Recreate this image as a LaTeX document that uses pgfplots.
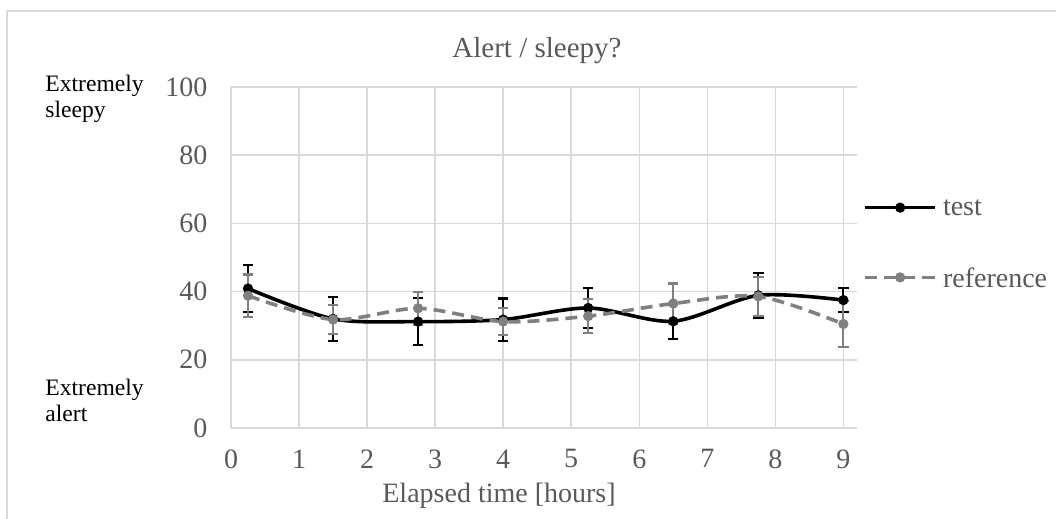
\documentclass[border=0pt]{standalone}
\usepackage{fontspec}
\setmainfont{Liberation Serif}
\usepackage{pgfplots}
\pgfplotsset{compat=1.18}
\definecolor{gridgray}{HTML}{D9D9D9}
\definecolor{labelgray}{HTML}{595959}
\definecolor{refgray}{HTML}{808080}

\begin{document}
\begin{tikzpicture}
\useasboundingbox (0,0) rectangle (528pt,259.5pt);
\draw[gridgray, line width=0.75pt] (3.5pt,0pt) -- (3.5pt,254pt) -- (528pt,254pt);

\begin{axis}[
    at={(115.5pt,45.5pt)}, anchor=south west,
    scale only axis, width=313pt, height=170.5pt,
    xmin=0, xmax=9.2, ymin=0, ymax=100,
    xtick={0,...,9}, ytick={0,20,...,100},
    axis line style={draw=none}, major tick length=0pt,
    grid=major, grid style={gridgray, line width=0.75pt},
    tick label style={font=\fontsize{14}{16}\selectfont, text=labelgray},
    /pgf/number format/assume math mode=true,
    xticklabel style={yshift=-7.3pt},
    yticklabel style={xshift=-8.3pt},
    legend cell align=left,
    legend style={draw=none, fill=none, at={(1.0096,0.541)}, anchor=west,
        inner sep=0pt, row sep=26pt, column sep=3pt,
        nodes={inner sep=0pt, text depth=0pt},
        font=\fontsize{14}{16}\selectfont, text=labelgray},
    legend image code/.code={\draw[mark repeat=2,mark phase=2,#1] plot coordinates {(0pt,0pt) (17.5pt,0pt) (35pt,0pt)};},
    clip=false,
]

% test
\addplot[black, line width=1.8pt, smooth, mark=*, mark size=2.3pt,
    mark options={solid, line width=0.5pt},
    error bars/.cd, y dir=both, y explicit,
    error bar style={black, line width=1.1pt, solid},
    error mark options={black, line width=1.1pt, mark size=2.6pt, rotate=90, solid}]
coordinates {
    (0.25,40.9) +- (0,7.0)
    (1.5,32.0)  +- (0,6.4)
    (2.75,31.2) +- (0,6.9)
    (4,31.8)    +- (0,6.2)
    (5.25,35.2) +- (0,5.9)
    (6.5,31.3)  +- (0,5.2)
    (7.75,38.9) +- (0,6.6)
    (9,37.5)    +- (0,3.5)
};

% reference
\addplot[refgray, line width=1.8pt, smooth, dash pattern=on 6pt off 3.5pt,
    mark=*, mark size=2.3pt, mark options={solid, line width=0.5pt},
    error bars/.cd, y dir=both, y explicit,
    error bar style={refgray, line width=1.1pt, solid},
    error mark options={refgray, line width=1.1pt, mark size=2.6pt, rotate=90, solid}]
coordinates {
    (0.25,38.8) +- (0,6.2)
    (1.5,31.8)  +- (0,4.3)
    (2.75,35.1) +- (0,4.8)
    (4,31.2)    +- (0,4.0)
    (5.25,32.8) +- (0,5.0)
    (6.5,36.5)  +- (0,5.9)
    (7.75,38.6) +- (0,5.7)
    (9,30.5)    +- (0,6.8)
};

\legend{test, reference}
\end{axis}

\node[anchor=base, font=\fontsize{14.5}{16}\selectfont, text=labelgray] at (268.5pt,230.5pt) {Alert / sleepy?};
\node[anchor=base, font=\fontsize{14}{16}\selectfont, text=labelgray] at (249.5pt,8pt) {Elapsed time [hours]};
\node[anchor=base west, inner sep=0pt, font=\fontsize{11.8}{14}\selectfont] at (22.5pt,213.5pt) {Extremely};
\node[anchor=base west, inner sep=0pt, font=\fontsize{11.8}{14}\selectfont] at (22.5pt,200.5pt) {sleepy};
\node[anchor=base west, inner sep=0pt, font=\fontsize{11.8}{14}\selectfont] at (22.5pt,61.5pt) {Extremely};
\node[anchor=base west, inner sep=0pt, font=\fontsize{11.8}{14}\selectfont] at (22.5pt,48.5pt) {alert};
\end{tikzpicture}
\end{document}
